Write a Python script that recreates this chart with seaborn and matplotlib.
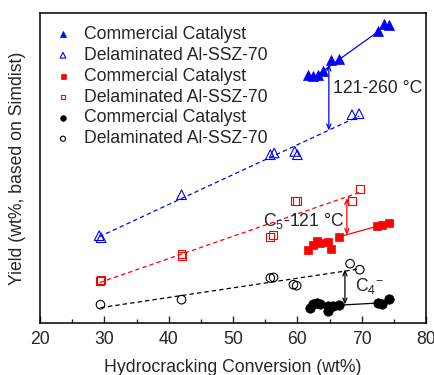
import numpy as np
import matplotlib
matplotlib.use("Agg")
import matplotlib.pyplot as plt
from matplotlib.ticker import MultipleLocator
import seaborn as sns

# ---- data (conversion wt%, yield wt% on an arbitrary untickled scale) ----
# 121-260 C fraction
blue_com_x = [61.7, 62.5, 63.2, 64.0, 65.3, 66.5, 72.6, 73.4, 74.2]
blue_com_y = [49.66, 49.36, 49.66, 50.46, 52.66, 52.8, 58.32, 59.76, 59.56]
blue_del_x = [29.2, 29.5, 42.0, 55.8, 56.4, 59.6, 60.0, 68.5, 69.6]
blue_del_y = [17.46, 17.06, 25.66, 33.66, 34.0, 34.32, 33.66, 41.66, 41.86]
# C5-121 C fraction
red_com_x = [61.7, 62.5, 63.0, 63.5, 64.8, 65.2, 66.4, 72.4, 73.1, 74.2]
red_com_y = [14.52, 15.66, 16.32, 16.0, 16.22, 14.8, 17.2, 19.32, 19.66, 20.0]
red_del_x = [29.3, 29.5, 42.0, 42.1, 55.8, 56.2, 59.6, 59.9, 68.5, 69.7]
red_del_y = [8.32, 8.66, 13.86, 13.46, 17.2, 17.66, 24.32, 24.32, 24.46, 26.8]
# C4- fraction
blk_com_x = [61.9, 62.5, 63.0, 63.6, 64.8, 64.8, 65.6, 66.4, 72.6, 73.1, 74.2]
blk_com_y = [3.0, 3.8, 4.0, 3.8, 3.32, 2.32, 3.32, 3.56, 4.0, 3.74, 4.8]
blk_del_x = [29.4, 42.0, 55.8, 56.3, 59.4, 59.9, 68.2, 69.7]
blk_del_y = [3.66, 4.66, 9.0, 9.12, 7.66, 7.46, 11.86, 10.66]

labels = ["Commercial Catalyst", "Delaminated Al-SSZ-70"]

sns.set_style("ticks")
plt.rcParams["font.family"] = ["Liberation Sans", "DejaVu Sans"]
plt.rcParams["mathtext.default"] = "regular"
FS = 12.7

fig = plt.figure(figsize=(4.35, 3.75), dpi=100)
ax = fig.add_axes([40 / 435, 1 - 323 / 375, 386 / 435, 310 / 375])

series = [
    ("blue", "^", blue_com_x, blue_com_y, blue_del_x, blue_del_y, 52, 48, (2, 6)),
    ("red", "s", red_com_x, red_com_y, red_del_x, red_del_y, 36, 32, (6, 9)),
    ("black", "o", blk_com_x, blk_com_y, blk_del_x, blk_del_y, 46, 38, (7, 8)),
]

for color, mk, cx, cy, dx, dy, s_f, s_o, seg in series:
    sns.scatterplot(x=cx, y=cy, marker=mk, s=s_f, color=color, edgecolor=color,
                    linewidth=0.5, label=labels[0], ax=ax, zorder=3)
    sns.scatterplot(x=dx, y=dy, marker=mk, s=s_o, facecolor="none", edgecolor=color,
                    linewidth=0.8, label=labels[1], ax=ax, zorder=3)
    sns.regplot(x=np.array(dx), y=np.array(dy), scatter=False, ci=None, truncate=True,
                color=color, ax=ax,
                line_kws=dict(lw=0.9, ls=(0, (3.5, 2.5)), zorder=2))
    i, j = seg
    ax.plot([cx[i], cx[j]], [cy[i], cy[j]], color=color, lw=0.9, zorder=2)

# double-headed arrows between series
arrows = [("blue", 64.9, 51.7, 38.5), ("red", 67.7, 25.0, 17.6), ("black", 67.4, 10.7, 3.7)]
for color, xa, y0, y1 in arrows:
    ax.annotate("", xy=(xa, y1), xytext=(xa, y0),
                arrowprops=dict(arrowstyle="<->,head_length=0.35,head_width=0.15",
                                color=color, lw=0.9, shrinkA=0, shrinkB=0))

ax.text(65.5, 46.9, "121-260 °C", fontsize=FS, ha="left", va="center")
ax.text(54.7, 20.3, "C$_5$-121 °C", fontsize=FS, ha="left", va="center")
ax.text(69.0, 7.3, "C$_4$$^{-}$", fontsize=FS, ha="left", va="center")

ax.set_xlim(20, 80)
ax.set_ylim(0, 62)
ax.set_yticks([])
ax.xaxis.set_major_locator(MultipleLocator(10))
ax.xaxis.set_minor_locator(MultipleLocator(5))
ax.tick_params(axis="x", which="major", direction="in", length=5, width=1,
               labelsize=FS, pad=6, top=False)
ax.tick_params(axis="x", which="minor", direction="in", length=3, width=1, top=False)
for sp in ax.spines.values():
    sp.set_visible(True)
    sp.set_linewidth(1.1)
    sp.set_color("black")

ax.set_xlabel("Hydrocracking Conversion (wt%)", fontsize=FS, labelpad=8)
ax.set_ylabel("Yield (wt%, based on Simdist)", fontsize=FS, labelpad=10)

ax.legend(loc="upper left", bbox_to_anchor=(0.0, 0.998), frameon=False, fontsize=FS,
          markerscale=0.6, handletextpad=0.6, labelspacing=0.22, borderaxespad=0.3,
          handlelength=1.2)

fig.savefig("out.png", dpi=100)
